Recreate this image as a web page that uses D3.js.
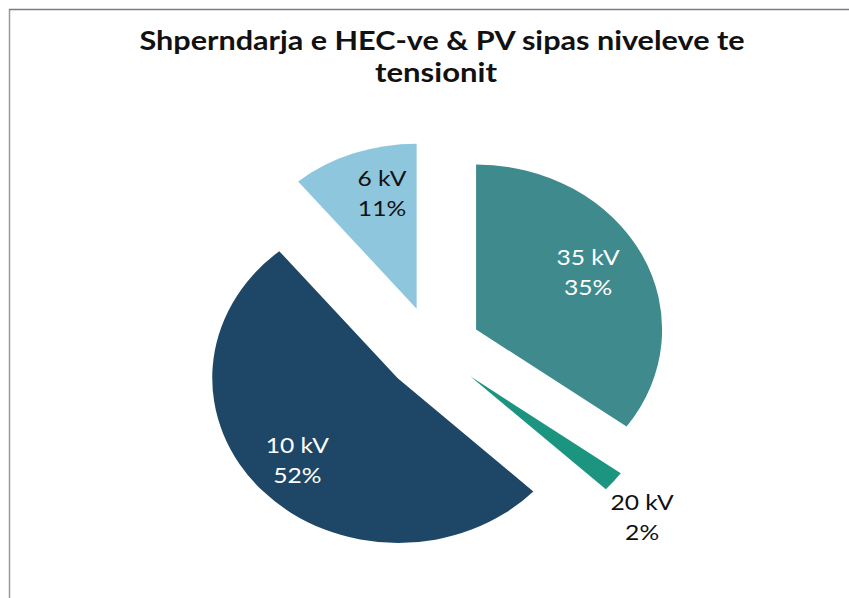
<!DOCTYPE html>
<html><head><meta charset="utf-8">
<script src="https://cdn.jsdelivr.net/npm/d3@7"></script>
<style>body{margin:0;background:#fff}svg{display:block}</style>
</head><body>
<svg id="c" width="849" height="598"></svg>
<script>
const categories = ["35 kV", "20 kV", "10 kV", "6 kV"];
const values = [35, 2, 52, 11];
const colors = ["#3e8a8c", "#1b9580", "#1e4767", "#8ec6de"];
const labelColors = ["#ffffff", "#111111", "#ffffff", "#111111"];
const title = ["Shperndarja e HEC-ve & PV sipas niveleve te", "tensionit"];

const svg = d3.select("#c");
// frame
svg.append("line").attr("x1",9.5).attr("y1",9).attr("x2",9.5).attr("y2",598).attr("stroke","#9a9a9a").attr("stroke-width",1.5);
svg.append("line").attr("x1",9).attr("y1",9.5).attr("x2",849).attr("y2",9.5).attr("stroke","#7a7a8a").attr("stroke-width",1.5);

const font = "Lato, 'Open Sans', sans-serif";
svg.append("text").attr("x", 442).attr("y", 50).attr("text-anchor","middle")
  .attr("font-family",font).attr("font-weight","bold").attr("font-size",26)
  .attr("textLength",605).attr("lengthAdjust","spacingAndGlyphs")
  .attr("fill","#111").text(title[0]);
svg.append("text").attr("x", 436).attr("y", 82).attr("text-anchor","middle")
  .attr("font-family",font).attr("font-weight","bold").attr("font-size",26)
  .attr("textLength",122).attr("lengthAdjust","spacingAndGlyphs")
  .attr("fill","#111").text(title[1]);

const cx = 433, cy = 349, rx = 186, ry = 165, explode = 0.26;
const data = categories.map((c,i)=>({cat:c, v:values[i], color:colors[i], lc:labelColors[i]}));
const pie = d3.pie().sort(null).value(d=>d.v);
const arcs = pie(data);
const arc = d3.arc().innerRadius(0).outerRadius(1);

// label offsets from each slice apex, in units of the radius
const labelOffset = {"35 kV":[0.602,-0.303], "20 kV":[0.924,0.903], "10 kV":[-0.54,0.545], "6 kV":[-0.186,-0.653]};

const g = svg.append("g").attr("transform", `translate(${cx},${cy})`);
arcs.forEach(a=>{
  const mid = (a.startAngle + a.endAngle)/2;
  const dx = Math.sin(mid)*explode*rx, dy = -Math.cos(mid)*explode*ry;
  g.append("path")
    .attr("transform", `translate(${dx},${dy}) scale(${rx},${ry})`)
    .attr("d", arc(a))
    .attr("fill", a.data.color);
  const [ox, oy] = labelOffset[a.data.cat];
  const lx = dx + ox*rx, ly = dy + oy*ry;
  const t = g.append("text").attr("text-anchor","middle")
    .attr("transform", `translate(${lx},${ly}) scale(1.12,1)`)
    .attr("font-family",font).attr("font-size",22)
    .attr("fill", a.data.lc);
  t.append("tspan").attr("x", 0).attr("y", -15).text(a.data.cat);
  t.append("tspan").attr("x", 0).attr("y", 15).text(a.data.v + "%");
});
</script>
</body></html>
